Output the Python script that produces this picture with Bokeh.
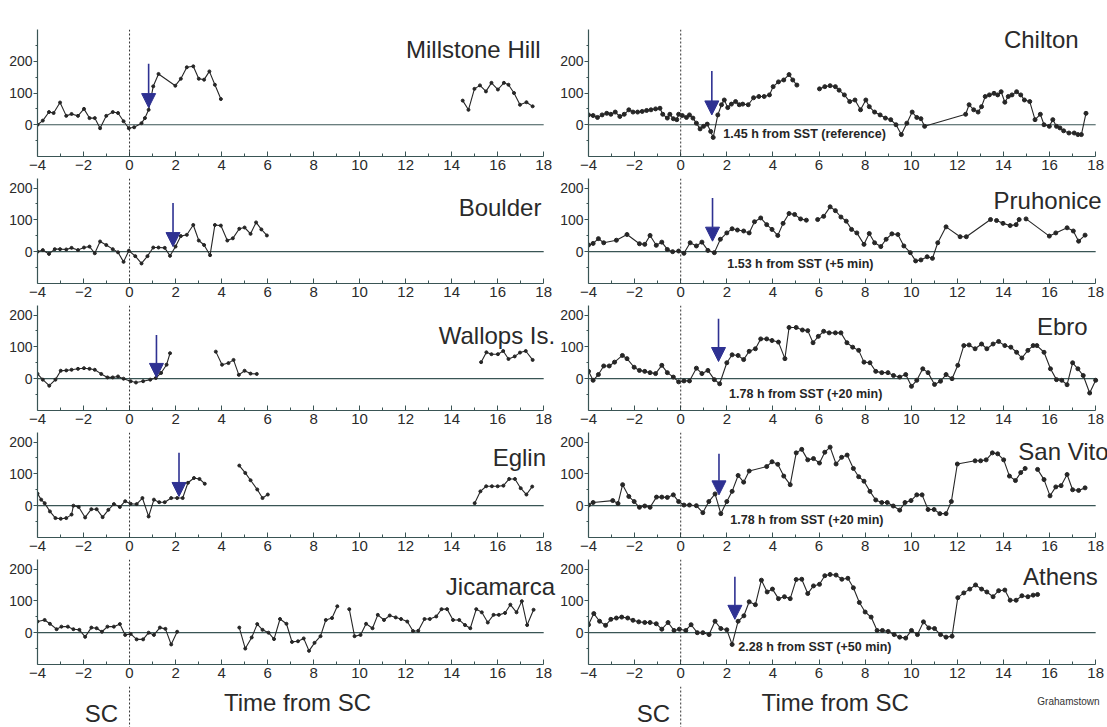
from bokeh.plotting import figure
from bokeh.layouts import column, row
from bokeh.models import Range1d, FixedTicker, Span, Label, Arrow, NormalHead
from bokeh.embed import file_html
from bokeh.resources import INLINE

nan = float("nan")

# ---- time from SC (hours) and disturbance values, one pair of lists per station ----
millstone_t = [-4.00, -3.77, -3.50, -3.30, -3.02, -2.75, -2.52, -2.24, -1.98, -1.74, -1.51, -1.28, -1.01, -0.73,
               -0.50, -0.26, -0.03, 0.20, 0.52, 0.67, 0.83, 1.03, 1.26, 1.99, 2.23, 2.49, 2.77, 3.01, 3.24, 3.47,
               3.71, 3.97, nan,
               14.48, 14.73, 14.99, 15.23, 15.49, 15.73, 16.01, 16.27, 16.47, 16.71, 16.97, 17.25, 17.52]
millstone_v = [0, 13, 40, 37, 70, 28, 34, 28, 50, 21, 21, -11, 28, 40,
               37, 11, -11, -8, 5, 21, 47, 121, 160, 123, 145, 181, 184, 145, 142, 168,
               126, 81, nan,
               76, 47, 113, 124, 105, 132, 111, 132, 126, 100, 63, 71, 58]

boulder_t = [-4.00, -3.77, -3.50, -3.25, -3.02, -2.75, -2.52, -2.24, -1.98, -1.74, -1.51, -1.28, -1.01, -0.73,
             -0.50, -0.26, -0.03, 0.25, 0.52, 0.78, 1.03, 1.26, 1.53, 1.76, 2.00, 2.23, 2.49, 2.77, 3.01, 3.24,
             3.50, 3.71, 3.97, 4.25, 4.49, 4.77, 5.00, 5.26, 5.50, 5.73, 5.97]
boulder_v = [0, 5, -7, 8, 8, 7, 12, 5, 13, 16, -5, 32, 21, 8,
             -2, -32, 3, -14, -37, -14, 13, 13, 12, -13, 16, 49, 53, 84, 35, 21,
             -11, 84, 82, 35, 42, 72, 76, 56, 92, 70, 51]

wallops_t = [-4.00, -3.77, -3.49, -3.22, -2.99, -2.75, -2.52, -2.24, -1.98, -1.74, -1.51, -1.23, -0.96, -0.73,
             -0.50, -0.26, 0.05, 0.28, 0.59, 0.90, 1.14, 1.37, 1.61, 1.76, nan,
             3.75, 4.02, 4.30, 4.52, 4.75, 5.00, 5.26, 5.53, nan,
             15.28, 15.51, 15.73, 16.01, 16.24, 16.47, 16.74, 16.97, 17.22, 17.52]
wallops_v = [15, -3, -22, -3, 25, 26, 28, 31, 33, 31, 28, 15, 4, 4,
             7, 0, -8, -12, -8, -3, 2, 18, 44, 80, nan,
             85, 44, 49, 59, 12, 25, 16, 15, nan,
             52, 83, 77, 77, 87, 62, 70, 82, 87, 59]

eglin_t = [-4.00, -3.84, -3.69, -3.46, -3.22, -2.99, -2.75, -2.52, -2.44, -2.21, -1.93, -1.66, -1.43, -1.17,
           -0.92, -0.68, -0.42, -0.19, 0.05, 0.31, 0.56, 0.83, 1.06, 1.29, 1.53, 1.81, 2.07, 2.31, 2.54, 2.80,
           3.04, 3.27, nan,
           4.77, 5.03, 5.26, 5.55, 5.78, 6.01, nan,
           15.00, 15.25, 15.50, 15.75, 16.00, 16.25, 16.50, 16.75, 17.00, 17.25, 17.50]
eglin_v = [38, 19, 8, -18, -39, -41, -39, -28, 0, -4, -37, -11, -11, -36,
           -13, 5, -4, 14, 6, 5, 24, -34, 19, 11, 11, 24, 24, 24, 72, 87,
           84, 69, nan,
           126, 103, 80, 51, 24, 35, nan,
           8, 45, 61, 61, 61, 63, 84, 84, 55, 35, 60]

jicamarca_t = [-4.00, -3.69, -3.46, -3.17, -2.96, -2.68, -2.44, -2.18, -1.93, -1.66, -1.43, -1.20, -0.96, -0.68,
               -0.42, -0.19, 0.05, 0.31, 0.59, 0.83, 1.06, 1.32, 1.56, 1.81, 2.07, nan,
               4.77, 5.03, 5.31, 5.55, 5.78, 6.04, 6.28, 6.54, 6.82, 7.06, 7.32, 7.57, 7.80, 8.04, 8.30, 8.53,
               8.80, 9.03, nan,
               9.55, 9.78, 10.04, 10.28, 10.56, 10.79, 11.06, 11.31, 11.57, 11.80, 12.07, 12.32, 12.55, 12.82,
               13.05, 13.33, 13.56, 13.80, 14.06, 14.33, 14.58, 14.81, 15.07, 15.31, 15.57, 15.82, 16.05, 16.32,
               16.55, 16.82, 17.05, 17.28, 17.56]
jicamarca_v = [35, 40, 28, 11, 19, 19, 11, 9, -13, 16, 14, 3, 19, 19,
               27, -7, -4, -21, -21, 0, -7, 16, 12, -37, 3, nan,
               16, -50, -15, 27, 9, 0, -20, 43, 28, -29, -27, -18, -57, -32, -11, 40,
               46, 83, nan,
               74, -11, -7, 28, 14, 56, 40, 54, 48, 43, 35, 5, 6, 43,
               43, 51, 74, 74, 40, 40, 24, 14, 74, 64, 32, 56, 56, 62,
               88, 64, 99, 24, 72]

chilton_t = [-4.00, -3.80, -3.61, -3.41, -3.21, -3.03, -2.84, -2.64, -2.45, -2.25, -2.07, -1.87, -1.67, -1.48,
             -1.29, -1.09, -0.90, -0.78, -0.58, -0.47, -0.32, -0.17, -0.09, 0.07, 0.25, 0.38, 0.53, 0.68, 0.84,
             0.99, 1.15, 1.30, 1.41, 1.61, 1.77, 1.89, 2.04, 2.20, 2.38, 2.54, 2.69, 2.93, 3.16, 3.39, 3.62,
             3.85, 4.01, 4.24, 4.47, 4.70, 4.86, 5.04, nan,
             6.02, 6.25, 6.48, 6.71, 6.87, 7.10, 7.33, 7.56, 7.80, 8.03, 8.18, 8.41, 8.65, 8.88, 9.11, 9.34,
             9.57, 9.81, 10.04, 10.24, 10.42, 10.58, 12.36, 12.51, 12.71, 12.90, 13.05, 13.21, 13.39, 13.59,
             13.75, 13.90, 14.06, 14.21, 14.37, 14.57, 14.75, 14.91, 15.14, 15.37, 15.60, 15.76, 15.99, 16.14,
             16.30, 16.45, 16.61, 16.84, 17.07, 17.23, 17.38, 17.58]
chilton_v = [31, 29, 23, 31, 36, 33, 40, 26, 33, 47, 40, 40, 42, 45,
             47, 50, 52, 33, 21, 33, 19, 16, 33, 29, 23, 31, 21, 5, -13,
             -5, 2, -21, -40, 31, 63, 78, 54, 65, 73, 63, 65, 63, 85, 89, 89,
             94, 120, 135, 141, 158, 141, 125, nan,
             113, 120, 123, 120, 109, 94, 73, 78, 47, 78, 57, 40, 31, 21, 16, 0,
             -31, 5, 40, 23, 19, -5, 33, 63, 47, 40, 57, 89, 94, 99,
             94, 104, 71, 89, 94, 104, 94, 78, 73, 16, 33, 0, -5, 16,
             -5, -10, -19, -26, -26, -31, -31, 36]

pruhonice_t = [-4.00, -3.80, -3.57, -3.34, -2.79, -2.33, -1.79, -1.56, -1.33, -1.06, -0.82, -0.58, -0.35, -0.09,
               0.14, 0.41, 0.68, 0.92, 1.18, 1.46, 1.72, 2.00, 2.23, 2.46, 2.73, 2.97, 3.20, 3.47, 3.73, 3.96,
               4.21, 4.44, 4.70, 4.94, 5.20, 5.45, nan,
               5.94, 6.20, 6.48, 6.71, 6.95, 7.18, 7.41, 7.64, 7.95, 8.18, 8.41, 8.68, 8.91, 9.16, 9.42, 9.68,
               9.96, 10.19, 10.42, 10.69, 10.92, 11.15, 11.51, 12.12, 12.39, 13.44, nan,
               13.70, 13.98, 14.29, 14.55, 14.68, nan,
               14.98, 15.99, 16.27, 16.76, 17.03, 17.26, 17.54]
pruhonice_v = [21, 26, 41, 28, 36, 54, 25, 23, 51, 20, 30, 7, 0, 2,
               -5, 28, 18, 30, 4, -3, 39, 59, 72, 68, 65, 59, 94, 106, 85, 70,
               51, 89, 120, 117, 103, 99, nan,
               101, 111, 141, 129, 109, 96, 70, 59, 23, 57, 28, 16, 39, 56, 54, 18,
               -3, -29, -26, -16, -21, 28, 78, 47, 47, 101, nan,
               98, 89, 82, 85, 101, nan,
               103, 49, 59, 75, 65, 33, 52]

ebro_t = [-4.00, -3.80, -3.57, -3.34, -3.10, -2.87, -2.53, -2.33, -2.02, -1.79, -1.56, -1.33, -1.09, -0.82,
          -0.58, -0.32, -0.09, 0.14, 0.38, 0.68, 0.92, 1.18, 1.46, 1.69, 2.00, 2.23, 2.49, 2.73, 2.97, 3.24,
          3.47, 3.73, 3.96, 4.24, 4.52, 4.70, 5.01, 5.28, 5.51, 5.74, 5.97, 6.20, 6.44, 6.71, 6.95, 7.21,
          7.46, 7.72, 7.95, 8.21, 8.46, 8.72, 8.99, 9.23, 9.50, 9.76, 10.01, 10.24, 10.50, 10.73, 11.01, 11.27,
          11.51, 11.77, 12.02, 12.28, 12.51, 12.77, 13.05, 13.28, 13.55, 13.79, 14.06, 14.32, 14.57, 14.80,
          15.06, 15.29, nan,
          15.45, 15.76, 16.04, 16.30, 16.53, 16.76, 17.00, 17.23, 17.46, 17.74, 18.00]
ebro_v = [23, -5, 13, 40, 40, 52, 73, 63, 36, 26, 23, 19, 16, 42,
          19, 5, -10, -7, -7, 33, 16, 26, -3, -16, 50, 75, 73, 60, 86, 94,
          125, 125, 120, 115, 63, 161, 161, 153, 151, 113, 133, 149, 144, 144, 144, 113,
          99, 89, 52, 50, 23, 19, 19, 10, 5, 13, -24, -5, 31, 19, -18, -8,
          13, 0, 42, 104, 106, 94, 109, 94, 109, 117, 104, 99, 83, 65,
          89, 104, nan,
          104, 83, 31, -3, -5, -19, 50, 31, 10, -45, -5]

sanvito_t = [-4.00, -3.80, -2.95, -2.72, -2.52, -2.25, -2.02, -1.79, -1.56, -1.33, -1.05, -0.82, -0.58, -0.32,
             -0.09, 0.14, 0.38, 0.68, 0.96, 1.22, 1.49, 1.74, 2.00, 2.23, 2.49, 2.73, 2.97, 3.73, 3.96, 4.21,
             4.47, 4.75, 5.01, 5.25, 5.51, 5.76, 6.02, 6.25, 6.48, 6.74, 6.98, 7.22, 7.49, 7.72, 7.95, 8.21,
             8.46, 8.72, 8.96, 9.22, 9.50, 9.73, 9.99, 10.24, 10.47, 10.73, 10.99, 11.24, 11.51, 11.74, 12.00,
             12.77, 13.01, 13.25, 13.52, 13.75, 14.01, 14.26, 14.52, 14.75, 14.94, nan,
             15.48, 15.76, 16.02, 16.27, 16.50, 16.76, 17.00, 17.26, 17.54]
sanvito_v = [2, 10, 16, 7, 66, 29, 13, -5, -1, -5, 27, 27, 26, 34,
             13, 2, 2, 0, -22, 13, 37, -25, 13, 45, 95, 74, 109, 123, 138, 130,
             93, 66, 166, 177, 144, 148, 134, 168, 184, 131, 152, 159, 117, 91, 77, 45,
             18, 10, 10, -1, -14, 10, 16, 34, 34, -12, -12, -25, -25, 13, 131,
             141, 141, 144, 166, 163, 144, 93, 79, 104, 117, nan,
             114, 82, 31, 59, 63, 98, 50, 48, 56]

athens_t = [-4.00, -3.77, -3.52, -3.26, -3.03, -2.79, -2.56, -2.30, -2.07, -1.82, -1.56, -1.33, -1.06, -0.82,
            -0.55, -0.29, -0.06, 0.22, 0.45, 0.72, 0.96, 1.23, 1.49, 1.74, 2.00, 2.23, 2.49, 2.74, 2.97, 3.24,
            3.50, 3.75, 3.98, 4.24, 4.50, 4.75, 5.01, 5.25, 5.51, 5.76, 6.02, 6.25, 6.48, 6.74, 6.99, 7.25,
            7.49, 7.75, 8.00, 8.26, 8.52, 8.75, 9.00, 9.26, 9.50, 9.76, 10.01, 10.27, 10.53, 10.76, 11.01,
            11.27, 11.51, 11.77, 12.02, 12.28, 12.54, 12.79, 13.05, 13.28, 13.55, 13.79, 14.06, 14.29, 14.55,
            14.80, 15.06, 15.29, 15.48]
athens_v = [25, 60, 36, 23, 42, 46, 49, 46, 39, 34, 32, 32, 28, 11,
            32, 7, 11, 7, 25, 0, 0, -6, 36, 13, 9, -37, 36, 53, 97, 88,
            165, 128, 137, 107, 113, 107, 167, 168, 123, 147, 152, 179, 183, 181, 168, 171,
            141, 95, 65, 49, 7, 7, 4, -6, -14, -17, 7, -6, 34, 15, 13,
            -6, -14, -11, 110, 125, 137, 150, 137, 128, 113, 132, 134, 102, 102,
            116, 113, 118, 120]

# onset arrows: time from SC, top of shaft, tip
arrow_x = {"Millstone Hill": 0.83, "Boulder": 1.89, "Wallops Is.": 1.17, "Eglin": 2.15,
           "Chilton": 1.35, "Pruhonice": 1.38, "Ebro": 1.64, "San Vito": 1.66, "Athens": 2.35}
arrow_top = {"Millstone Hill": 192, "Boulder": 153, "Wallops Is.": 137, "Eglin": 166,
             "Chilton": 169, "Pruhonice": 169, "Ebro": 188, "San Vito": 163, "Athens": 176}
arrow_tip = {"Millstone Hill": 54, "Boulder": 16, "Wallops Is.": 4, "Eglin": 29,
             "Chilton": 31, "Pruhonice": 33, "Ebro": 54, "San Vito": 34, "Athens": 42}

# delay notes: text, x, y
notes = {"Chilton": ("1.45 h from SST (reference)", 1.85, -28),
         "Pruhonice": ("1.53 h from SST (+5 min)", 2.02, -40),
         "Ebro": ("1.78 h from SST (+20 min)", 2.10, -48),
         "San Vito": ("1.78 h from SST (+20 min)", 2.15, -46),
         "Athens": ("2.28 h from SST (+50 min)", 2.50, -44)}

# station name placement (right edge x, centre y)
name_pos = {"Millstone Hill": (17.87, 238), "Boulder": (17.9, 140), "Wallops Is.": (18.5, 136),
            "Eglin": (18.1, 150), "Jicamarca": (18.5, 145),
            "Chilton": (17.26, 270), "Pruhonice": (18.26, 161), "Ebro": (17.65, 165),
            "San Vito": (18.56, 171), "Athens": (18.09, 178)}

left_stations = [("Millstone Hill", millstone_t, millstone_v), ("Boulder", boulder_t, boulder_v),
                 ("Wallops Is.", wallops_t, wallops_v), ("Eglin", eglin_t, eglin_v),
                 ("Jicamarca", jicamarca_t, jicamarca_v)]
right_stations = [("Chilton", chilton_t, chilton_v), ("Pruhonice", pruhonice_t, pruhonice_v),
                  ("Ebro", ebro_t, ebro_v), ("San Vito", sanvito_t, sanvito_v),
                  ("Athens", athens_t, athens_v)]

x_ticks = list(range(-4, 19, 2))
x_minor = list(range(-3, 18, 2))
y_ticks = [0, 100, 200]
y_minor = [-50, 50, 150, 250]

AXIS = "#3a5555"
INK = "#262626"
NAVY = "#2e3192"
FONT = "Liberation Sans"

# the frame runs a little past 18 h so station names can overhang the axis end
X_END = 18.6
COLS = [dict(left=37, fw=520), dict(left=29, fw=521)]


def station_panel(xr, col, first, name, t, v, dot):
    c = COLS[col]
    top = 300 if first else 230
    p = figure(frame_width=c["fw"], frame_height=127 if first else 105,
               x_range=xr, y_range=Range1d(-100, top),
               min_border_left=c["left"], min_border_right=0,
               min_border_top=29 if first else 0, min_border_bottom=22,
               output_backend="svg", toolbar_location=None)
    p.outline_line_color = None
    p.grid.visible = False
    p.background_fill_color = "white"
    p.border_fill_color = "white"

    xa = p.xaxis[0]
    xa.ticker = FixedTicker(ticks=x_ticks, minor_ticks=x_minor)
    xa.bounds = (x_ticks[0], x_ticks[-1])
    xa.major_tick_in, xa.major_tick_out = 5, 0
    xa.minor_tick_in, xa.minor_tick_out = 3, 0
    xa.major_label_standoff = 3
    xa.major_label_text_font = FONT
    xa.major_label_text_font_size = "15px"
    xa.major_label_text_color = "#2a2a2a"
    ya = p.yaxis[0]
    ya.ticker = FixedTicker(ticks=y_ticks, minor_ticks=y_minor)
    ya.major_tick_in, ya.major_tick_out = 0, 4
    ya.minor_tick_in, ya.minor_tick_out = 0, 2
    ya.major_label_standoff = 1
    ya.major_label_text_font = FONT
    ya.major_label_text_font_size = "14px"
    ya.major_label_text_color = "#2a2a2a"
    for ax in (xa, ya):
        ax.axis_line_color = AXIS
        ax.axis_line_width = 1.2
        ax.major_tick_line_color = AXIS
        ax.minor_tick_line_color = AXIS

    # zero reference line across the time axis
    p.segment(x0=[x_ticks[0]], y0=[0], x1=[x_ticks[-1]], y1=[0], line_color=AXIS, line_width=1.2)
    # SC onset marker
    p.add_layout(Span(location=0, dimension="height", line_color="#333333",
                      line_dash="2 2", line_width=1))

    p.line(t, v, line_color=INK, line_width=1.1)
    p.scatter(t, v, size=dot, color=INK)

    if name in arrow_x:
        p.add_layout(Arrow(end=NormalHead(size=14, fill_color=NAVY, line_color=NAVY),
                           x_start=arrow_x[name], y_start=arrow_top[name],
                           x_end=arrow_x[name], y_end=arrow_tip[name],
                           line_color=NAVY, line_width=1.6))
    if name in notes:
        txt, nx, ny = notes[name]
        p.add_layout(Label(x=nx, y=ny, text=txt, text_align="left", text_baseline="middle",
                           text_font=FONT, text_font_size="12.5px", text_font_style="bold",
                           text_color="#262626"))
    nx, ny = name_pos[name]
    p.add_layout(Label(x=nx, y=ny, text=name, text_align="right", text_baseline="middle",
                       text_font=FONT, text_font_size="24px", text_color="#2a2a2a"))
    return p


def footer(xr, col, tx, scx, extra=None):
    c = COLS[col]
    p = figure(frame_width=c["fw"], frame_height=41, x_range=xr, y_range=Range1d(0, 1),
               min_border_left=c["left"], min_border_right=0,
               min_border_top=0, min_border_bottom=0,
               x_axis_location=None, y_axis_location=None,
               output_backend="svg", toolbar_location=None)
    p.outline_line_color = None
    p.grid.visible = False
    p.add_layout(Span(location=0, dimension="height", line_color="#333333",
                      line_dash="2 2", line_width=1))
    p.add_layout(Label(x=tx, y=0.61, text="Time from SC", text_align="center",
                       text_baseline="middle", text_font=FONT, text_font_size="24px",
                       text_color="#2a2a2a"))
    p.add_layout(Label(x=scx, y=0.34, text="SC", text_align="center",
                       text_baseline="middle", text_font=FONT, text_font_size="24px",
                       text_color="#2a2a2a"))
    if extra:
        p.add_layout(Label(x=18.17, y=0.63, text=extra, text_align="right",
                           text_baseline="middle", text_font=FONT, text_font_size="10px",
                           text_color="#333333"))
    return p


columns = []
for col, stations in enumerate((left_stations, right_stations)):
    xr = Range1d(-4, X_END)
    dot = 3 if col == 0 else 4
    figs = [station_panel(xr, col, i == 0, name, t, v, dot)
            for i, (name, t, v) in enumerate(stations)]
    if col == 0:
        figs.append(footer(xr, col, 7.3, -1.22))
    else:
        figs.append(footer(xr, col, 6.7, -1.18, "Grahamstown"))
    columns.append(column(*figs, spacing=0))

layout = row(*columns, spacing=0)

open("out.html", "w").write(file_html(layout, INLINE))
